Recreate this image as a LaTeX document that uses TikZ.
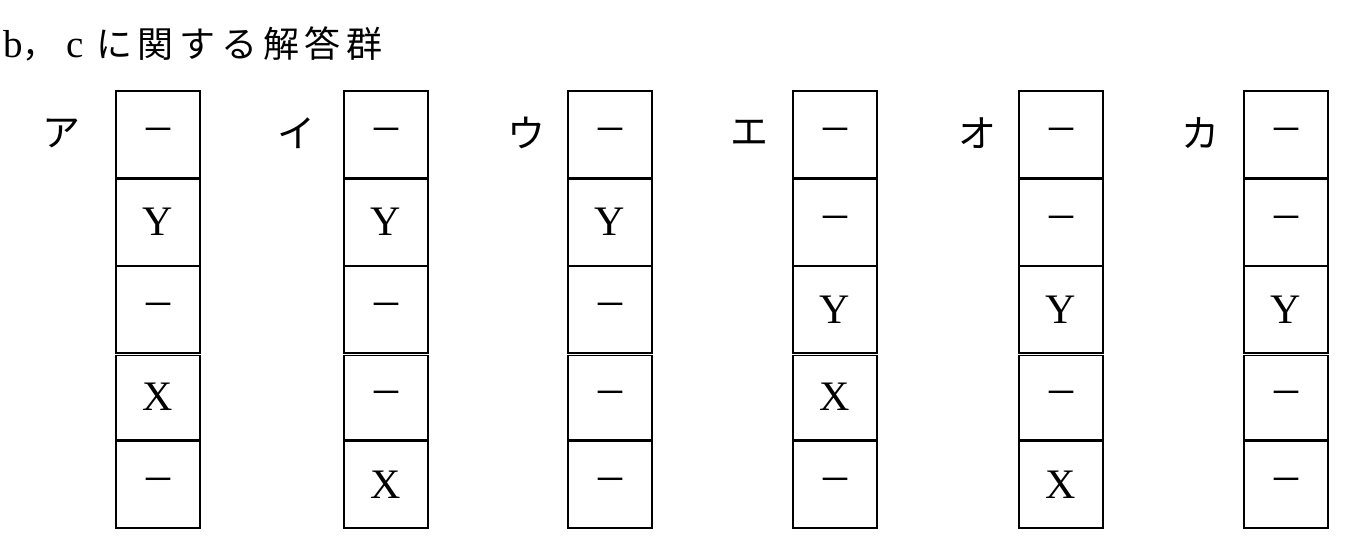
\documentclass[tikz,border=0pt]{standalone}
\usepackage{fontspec}
\setmainfont{Liberation Serif}
\newfontfamily\cjk{Noto Sans CJK JP}
\newfontfamily\cjkls[LetterSpace=16]{Noto Sans CJK JP}
\newcommand\celldsh{{\fontsize{48}{48}\selectfont –}}
\newcommand\cellD{\celldsh}
\newcommand\cellY{Y}
\newcommand\cellX{X}
\begin{document}
\begin{tikzpicture}[x=1pt,y=-1pt,
  cell/.style={draw, line width=2.4pt, minimum width=84pt, minimum height=87.4pt,
    inner sep=0pt, font=\fontsize{42}{42}\selectfont},
  kana/.style={font=\cjk\fontsize{38}{38}\selectfont, inner sep=0pt},
  dbl/.style={double=white, double distance=1.3pt, line width=1.1pt}]
\useasboundingbox (0,0) rectangle (1358,542);
\fill[white] (0,0) rectangle (1358,542);
\node[anchor=base west, inner sep=0pt, font=\fontsize{39}{39}\selectfont] (title) at (3,57)
  {b{\cjk\fontsize{34}{34}\selectfont ，}\hspace{10pt}c\hspace{12pt}{\cjkls\fontsize{36}{36}\selectfont に関する解答群}};
\foreach \lab/\lx/\bx/\a/\b/\c/\d/\e [count=\i] in
  {ア/61/116/D/Y/D/X/D, イ/296/344/D/Y/D/D/X, ウ/526/568/D/Y/D/D/D,
   エ/749/793/D/D/Y/X/D, オ/977/1019/D/D/Y/D/X, カ/1200/1244/D/D/Y/D/D}{
  \node[kana] (l\i) at (\lx,133) {\lab};
  \node[cell] (c\i-1) at (\bx+42,91+43.7) {\csname cell\a\endcsname};
  \node[cell] (c\i-2) at (\bx+42,91+43.7+87.4) {\csname cell\b\endcsname};
  \node[cell] (c\i-3) at (\bx+42,91+43.7+2*87.4) {\csname cell\c\endcsname};
  \node[cell] (c\i-4) at (\bx+42,91+43.7+3*87.4) {\csname cell\d\endcsname};
  \node[cell] (c\i-5) at (\bx+42,91+43.7+4*87.4) {\csname cell\e\endcsname};
  \draw[dbl] (c\i-3.south west) -- (c\i-3.south east);
}
\end{tikzpicture}
\end{document}
